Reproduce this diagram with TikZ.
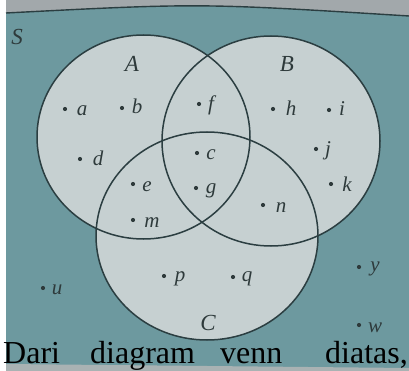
\documentclass[tikz,border=0pt]{standalone}
\usepackage{fontspec}
\setmainfont{Liberation Serif}
\definecolor{bgteal}{HTML}{6D999F}
\definecolor{topgray}{HTML}{A2A8AB}
\definecolor{insidec}{HTML}{C6D0D1}
\definecolor{linec}{HTML}{2B3E41}
\definecolor{labelc}{HTML}{2E3A3B}
\definecolor{bottomc}{HTML}{A9B2B3}
\tikzset{
  setline/.style={draw=linec, line width=1.5pt},
  pt/.style={circle, fill=labelc, inner sep=0pt, minimum size=4.2pt},
  lbl/.style={anchor=base, inner sep=0pt, text=labelc, font=\fontsize{21}{21}\selectfont\itshape},
  setlbl/.style={anchor=base, inner sep=0pt, text=labelc, font=\fontsize{23}{23}\selectfont\itshape},
  word/.style={anchor=base west, inner sep=0pt, text=black, font=\fontsize{32}{32}\selectfont},
}
\begin{document}
\begin{tikzpicture}[x=1pt,y=-1pt]
\useasboundingbox (0,0) rectangle (409,371);
\fill[white] (0,0) rectangle (409,371);
% photo background
\fill[topgray] (6,0) rectangle (409,20);
\fill[bgteal] (6,13) .. controls (200,3) .. (409,16) -- (409,371) -- (6,371) -- cycle;
\fill[bottomc] (6,364) -- (409,368) -- (409,371) -- (6,371) -- cycle;
\draw[linec, line width=1.4pt] (6,13) .. controls (200,3) .. (409,16);
% set interiors
\fill[insidec] (143.5,137) ellipse [x radius=106.5, y radius=102];
\fill[insidec] (271,141) ellipse [x radius=109, y radius=105];
\fill[insidec] (207,236) ellipse [x radius=111, y radius=104];
% set outlines
\draw[setline] (143.5,137) ellipse [x radius=106.5, y radius=102];
\draw[setline] (271,141) ellipse [x radius=109, y radius=105];
\draw[setline] (207,236) ellipse [x radius=111, y radius=104];
% set names
\node[setlbl] (S) at (17,45) {S};
\node[setlbl] (A) at (132,72) {A};
\node[setlbl] (B) at (287,72) {B};
\node[setlbl] (C) at (208,330) {C};
% elements
\node[pt] (pa) at (65,109) {};  \node[lbl] (la) at (82,116) {a};
\node[pt] (pb) at (122,108) {}; \node[lbl] (lb) at (137,114) {b};
\node[pt] (pf) at (199,104) {}; \node[lbl] (lf) at (211,111) {f};
\node[pt] (ph) at (273,109) {}; \node[lbl] (lh) at (291,116) {h};
\node[pt] (pi) at (329,110) {}; \node[lbl] (li) at (342,116) {i};
\node[pt] (pd) at (80,159) {};  \node[lbl] (ld) at (98,166) {d};
\node[pt] (pc) at (197,153) {}; \node[lbl] (lc) at (211,160) {c};
\node[pt] (pj) at (316,149) {}; \node[lbl] (lj) at (328,156) {j};
\node[pt] (pe) at (133,184) {}; \node[lbl] (le) at (147,192) {e};
\node[pt] (pg) at (196,188) {}; \node[lbl] (lg) at (211,194) {g};
\node[pt] (pk) at (331,184) {}; \node[lbl] (lk) at (347,192) {k};
\node[pt] (pn) at (263,205) {}; \node[lbl] (ln) at (281,212) {n};
\node[pt] (pm) at (133,220) {}; \node[lbl] (lm) at (152,227) {m};
\node[pt] (pp) at (164,276) {}; \node[lbl] (lp) at (180,281) {p};
\node[pt] (pq) at (233,277) {}; \node[lbl] (lq) at (247,281) {q};
\node[pt] (pu) at (43,288) {};  \node[lbl] (lu) at (57,294) {u};
\node[pt] (py) at (359,267) {}; \node[lbl] (ly) at (375,271) {y};
\node[pt] (pw) at (359,325) {}; \node[lbl] (lw) at (375,332) {w};
% caption words
\node[word] (w1) at (3,363) {Dari};
\node[word] (w2) at (90,363) {diagram};
\node[word] (w3) at (220,363) {venn};
\node[word] (w4) at (325,363) {diatas,};
\end{tikzpicture}
\end{document}
